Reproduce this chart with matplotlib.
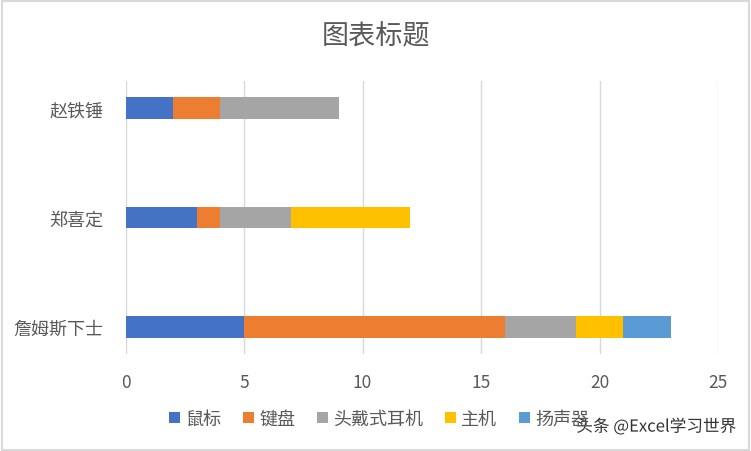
import matplotlib
matplotlib.use("Agg")
import matplotlib.pyplot as plt
import matplotlib.patheffects as pe
from matplotlib.patches import Rectangle, Patch
import numpy as np

plt.rcParams['font.family'] = ['Noto Sans CJK SC', 'DejaVu Sans']

# 数据（从下到上）
people = ["詹姆斯下士", "郑喜定", "赵铁锤"]
series = ["鼠标", "键盘", "头戴式耳机", "主机", "扬声器"]
mouse = [5, 3, 2]
keyboard = [11, 1, 2]
headset = [3, 3, 5]
host = [2, 5, 0]
speaker = [2, 0, 0]
colors = ["#4472C4", "#ED7D31", "#A5A5A5", "#FFC000", "#5B9BD5"]

fig = plt.figure(figsize=(7.51, 4.52), dpi=100)
ax = fig.add_axes([125.5 / 751, 1 - 355 / 452, (718 - 125.5) / 751, (355 - 82) / 452])

y = np.arange(len(people))
left = np.zeros(len(people))
for name, vals, c in zip(series, [mouse, keyboard, headset, host, speaker], colors):
    ax.barh(y, vals, left=left, height=0.2, color=c, zorder=3)
    left += np.array(vals)

ax.set_xlim(0, 25)
ax.set_ylim(-0.247, 2.247)
ax.set_xticks(range(0, 26, 5))
ax.set_yticks(y)
ax.set_yticklabels(people)
ax.grid(axis="x", color="#D9D9D9", lw=1, zorder=0)
for s in ax.spines.values():
    s.set_visible(False)
ax.tick_params(length=0, colors="#595959", labelsize=12.5)
ax.tick_params(axis="y", labelsize=13, pad=16)
ax.tick_params(axis="x", pad=14)

fig.text(0.5, 1 - 37 / 452, "图表标题", ha="center", va="center", fontsize=19.5, color="#595959")

handles = [Patch(facecolor=c, label=n) for n, c in zip(series, colors)]
fig.legend(handles=handles, loc="center", bbox_to_anchor=(0.505, 1 - 420 / 452), ncol=5,
           frameon=False, fontsize=13, handlelength=0.6, handleheight=0.6,
           handletextpad=0.3, columnspacing=1.2, labelcolor="#595959")

# 水印
fig.text(736 / 751, 1 - 428 / 452, "头条 @Excel学习世界", ha="right", va="center",
         fontsize=12, color="#333333",
         path_effects=[pe.withStroke(linewidth=2.5, foreground="white")])

fig.patches.append(Rectangle((0.002, 0.003), 0.995, 0.993, transform=fig.transFigure,
                             fill=False, edgecolor="#D9D9D9", lw=1.5))

fig.savefig("out.png", dpi=100)
